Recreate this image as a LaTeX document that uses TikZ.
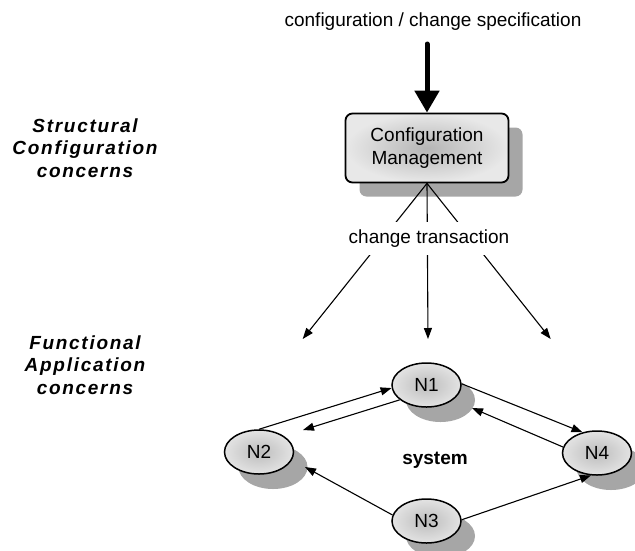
\documentclass[tikz,border=0pt]{standalone}
\usepackage{fontspec}
\setmainfont{Liberation Sans}
\newfontfamily\spacedfont[LetterSpace=9]{Liberation Sans}
\usetikzlibrary{arrows.meta,shapes.geometric,shadows}
\definecolor{shadowgray}{HTML}{A6A6A6}
\begin{document}
\begin{tikzpicture}[x=1pt,y=-1pt,
  every node/.style={font=\fontsize{19}{23}\selectfont},
  mybox/.style={draw,line width=1.8pt,rounded corners=7pt,minimum width=163pt,minimum height=69pt,
    inner color=black!29,outer color=black!9,align=center,
    drop shadow={shadow xshift=14pt,shadow yshift=-14pt,fill=shadowgray,opacity=1}},
  nodeell/.style={ellipse,draw,line width=1.5pt,minimum width=69pt,minimum height=44pt,inner sep=0pt,
    inner color=black!26,outer color=black!11,
    drop shadow={shadow xshift=14pt,shadow yshift=-15pt,fill=shadowgray,opacity=1}},
  arr/.style={line width=1.1pt,-{Triangle[length=11pt,width=8pt]}},
  side/.style={font=\fontsize{19}{22.5}\selectfont\spacedfont\bfseries\itshape,align=center}
]
\useasboundingbox (0,0) rectangle (635,550);

\node (spec) at (433,22) {configuration / change specification};
\coordinate (specend) at (427,44);
\node[mybox] (cm) at (427,148) {Configuration\\Management};
\draw[line width=5pt,line cap=round,-{Triangle[length=22pt,width=24pt]}] (specend) -- (cm.north);

\node[side] (sc) at (85,148) {Structural\\Configuration\\concerns};
\node[side] (fa) at (85,365) {Functional\\Application\\concerns};

\coordinate (t1) at (302.7,339);
\coordinate (t2) at (428,339);
\coordinate (t3) at (550.7,339);
\draw[arr] (cm.south) -- (t1);
\draw[arr] (cm.south) -- (t2);
\draw[arr] (cm.south) -- (t3);
\node[fill=white,minimum height=33pt,inner xsep=2pt] (ct) at (429,238.5) {change transaction};

\node[nodeell] (N1) at (426.5,385) {N1};
\node[nodeell] (N2) at (259,452) {N2};
\node[nodeell] (N3) at (426.5,521) {N3};
\node[nodeell] (N4) at (597,453) {N4};
\node[font=\fontsize{19}{23}\selectfont\bfseries] (sys) at (435,460) {system};

\coordinate (e1) at (303,430);
\coordinate (e2) at (472,408);
\coordinate (e3) at (305,467);

\draw[arr] (N2.north) -- (N1.185);
\draw[arr] (N1.209) -- (e1);
\draw[arr] (N1.2) -- (N4.125);
\draw[arr] (N4.170) -- (e2);
\draw[arr] (N3.170) -- (e3);
\draw[arr] (N3.2) -- (N4.255);
\end{tikzpicture}
\end{document}
